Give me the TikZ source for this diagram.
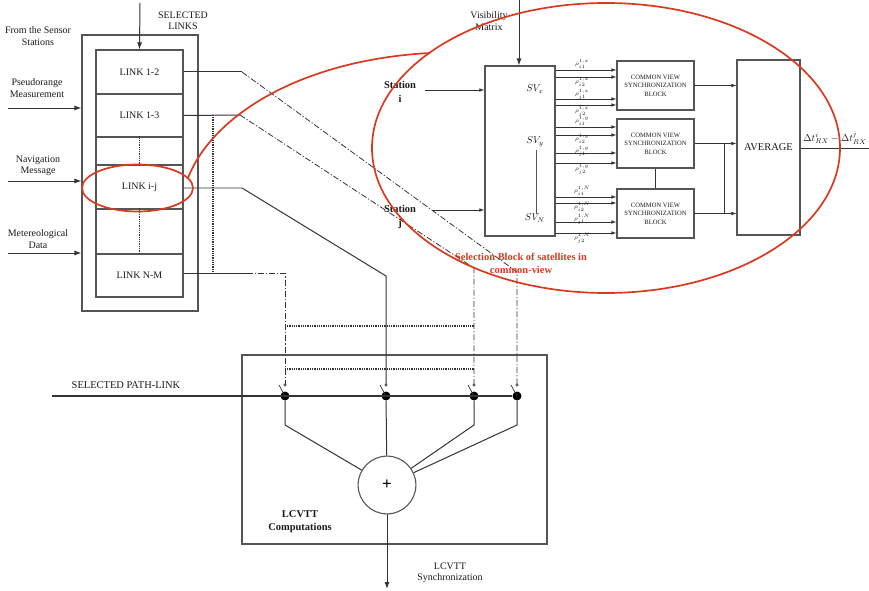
\documentclass[tikz,border=0pt]{standalone}
\usepackage{fontspec}
\setmainfont{Liberation Serif}
\usetikzlibrary{arrows.meta}
\definecolor{boxc}{HTML}{555555}
\definecolor{linec}{HTML}{333333}
\definecolor{txtc}{HTML}{1A1A1A}
\definecolor{redc}{HTML}{D9391F}
\tikzset{
  box/.style={draw=boxc, line width=1.1pt, inner sep=0pt},
  wire/.style={draw=linec, line width=1pt},
  arr/.style={wire, -{Latex[length=7pt,width=5pt]}},
  sarr/.style={wire, line width=0.8pt, -{Latex[length=5pt,width=3.6pt]}},
  dd/.style={draw=linec, line width=0.8pt, dash pattern=on 6pt off 2pt on 1.2pt off 2pt},
  dotl/.style={draw=linec, line width=1.8pt, dash pattern=on 0.9pt off 0.9pt},
  lbl/.style={font=\fontsize{10}{11.5}\selectfont, align=center, text=txtc, inner sep=0pt},
  blbl/.style={lbl, font=\fontsize{10.5}{13}\selectfont\bfseries},
  tiny/.style={font=\fontsize{6.6}{8.4}\selectfont, align=center, text=txtc, inner sep=0pt},
  rho/.style={font=\fontsize{6}{6.5}\selectfont, text=txtc, inner sep=0pt},
  redl/.style={draw=redc, line width=1.7pt},
  dotn/.style={circle, fill=black, inner sep=0pt, minimum size=9pt},
  sumn/.style={circle, draw=boxc, line width=1.1pt, minimum size=58pt, inner sep=0pt}
}
\begin{document}
\begin{tikzpicture}[x=1bp,y=-1bp]
\useasboundingbox (0,0) rectangle (869,591);

% ---------------- left: selected links
\node[box, minimum width=116bp, minimum height=276bp] (outer) at (140,173) {};
\node[box, minimum width=87bp, minimum height=44bp] (r1) at (139.5,72) {};
\node[box, minimum width=87bp, minimum height=43bp] (r2) at (139.5,115.5) {};
\node[box, minimum width=87bp, minimum height=28bp] (r3) at (139.5,151) {};
\node[box, minimum width=87bp, minimum height=44bp] (r4) at (139.5,187) {};
\node[box, minimum width=87bp, minimum height=45bp] (r5) at (139.5,231.5) {};
\node[box, minimum width=87bp, minimum height=43bp] (r6) at (139.5,275.5) {};
\node[lbl] (t1) at (r1) {LINK 1-2};
\node[lbl] (t2) at (r2) {LINK 1-3};
\node[lbl] (t4) at (r4) {LINK i-j};
\node[lbl] (t6) at (r6) {LINK N-M};
\draw[dotl] (r3.north) -- (r3.south);
\draw[dotl] (r5.north) -- (r5.south);

\node[lbl] (fs) at (38,36) {From the Sensor\\Stations};
\node[lbl] (sl) at (183,21) {SELECTED\\LINKS};
\node[lbl] (pm) at (37,88) {Pseudorange\\Measurement};
\node[lbl] (nm) at (38,166) {Navigation\\Message};
\node[lbl] (md) at (38,239) {Metereological\\Data};

\coordinate (topin) at (140,3);
\draw[arr] (topin) -- (r1.north);
\coordinate (i1) at (8,108);
\coordinate (i2) at (8,181);
\coordinate (i3) at (8,253);
\draw[arr] (i1) -- (i1 -| outer.west);
\draw[arr] (i2) -- (i2 -| outer.west);
\draw[arr] (i3) -- (i3 -| outer.west);

% ---------------- bottom: LCVTT computations
\node[box, minimum width=305bp, minimum height=189bp] (lc) at (394.5,449.5) {};
\node[blbl] (lct) at (300,522) {LCVTT\\Computations};
\node[sumn] (sum) at (387,485) {\fontsize{17}{17}\selectfont\bfseries +};
\node[dotn] (d1) at (285,396) {};
\node[dotn] (d2) at (386,396) {};
\node[dotn] (d3) at (474,396) {};
\node[dotn] (d4) at (517,396) {};
\coordinate (spl) at (52,396);
\draw[wire, line width=1.2pt] (spl) -- (d4);
\node[lbl, font=\fontsize{10.5}{12}\selectfont] (splt) at (126,385) {SELECTED PATH-LINK};
% switch tops
\foreach \d in {d1,d2,d3,d4}{
  \draw[linec, line width=0.5pt] (\d.center) ++(0,-11) circle[radius=1.3];
  \draw[linec, line width=0.7pt] (\d.center) -- ++(-6,-11);
}
% links to the adder
\coordinate (k1) at (285,425);
\coordinate (k3) at (474,425);
\coordinate (k4) at (517,425);
\draw[wire] (d1) -- (k1) -- (sum);
\draw[wire] (d2) -- (sum);
\draw[wire] (d3) -- (k3) -- (sum);
\draw[wire] (d4) -- (k4) -- (sum);
\coordinate (outs) at (387,589);
\draw[arr] (sum) -- (outs);
\node[lbl] (syn) at (450,573) {LCVTT\\Synchronization};

% ---------------- link wires
\coordinate (a1) at (242,72);
\coordinate (a1b) at (517,272);
\coordinate (a1c) at (517,385);
\draw[wire] (r1.east) -- (a1);
\draw[dd] (a1) -- (a1b) -- (a1c);
\coordinate (a2) at (240,115);
\coordinate (a2b) at (474,268);
\coordinate (a2c) at (474,385);
\draw[wire] (r2.east) -- (a2);
\draw[dd] (a2) -- (a2b) -- (a2c);
\coordinate (a4) at (242,188);
\coordinate (a4b) at (386,276);
\coordinate (a4c) at (386,385);
\draw[wire] (r4.east |- a4) -- (a4) -- (a4b) -- (a4c);
\coordinate (a6) at (247,273);
\coordinate (a6b) at (285,273);
\coordinate (a6c) at (285,385);
\draw[wire] (r6.east |- a6) -- (a6);
\draw[dd] (a6) -- (a6b) -- (a6c);
\coordinate (v13) at (213,115);
\coordinate (v6) at (213,273);
\draw[dotl] (v13) -- (v6);
\coordinate (h1a) at (285,326);
\coordinate (h1b) at (474,326);
\coordinate (h2a) at (285,369);
\coordinate (h2b) at (474,369);
\draw[dotl] (h1a) -- (h1b);
\draw[dotl] (h2a) -- (h2b);

% ---------------- right: selection and synchronization
\node[box, minimum width=70bp, minimum height=170bp] (sel) at (520,151) {};
\node[box, minimum width=77bp, minimum height=49bp] (b1) at (655.5,85.5) {};
\node[box, minimum width=77bp, minimum height=49bp] (b2) at (655.5,143.5) {};
\node[box, minimum width=77bp, minimum height=49bp] (b3) at (655.5,213.5) {};
\node[box, minimum width=63bp, minimum height=175bp] (avg) at (768.5,147.5) {};
\node[tiny] (b1t) at (b1) {COMMON VIEW\\SYNCHRONIZATION\\BLOCK};
\node[tiny] (b2t) at (b2) {COMMON VIEW\\SYNCHRONIZATION\\BLOCK};
\node[tiny] (b3t) at (b3) {COMMON VIEW\\SYNCHRONIZATION\\BLOCK};
\node[lbl, font=\fontsize{10.5}{12}\selectfont] (avgt) at (avg) {AVERAGE};

\node[lbl] (vm) at (489,21) {Visibility\\Matrix};
\coordinate (vin) at (519,0);
\draw[arr] (vin) -- (vin |- sel.north);
\node[blbl, font=\fontsize{10.5}{14}\selectfont\bfseries] (sti) at (400,92) {Station\\i};
\node[blbl, font=\fontsize{10.5}{14}\selectfont\bfseries] (stj) at (400,217) {Station\\j};
\coordinate (si) at (425,90);
\coordinate (sj) at (432,210);
\draw[sarr] (si) -- (si -| sel.west);
\draw[sarr] (sj) -- (sj -| sel.west);
\node[lbl, font=\fontsize{10}{11}\selectfont] (svx) at (535,89) {$SV_x$};
\node[lbl, font=\fontsize{10}{11}\selectfont] (svy) at (535,142) {$SV_y$};
\node[lbl, font=\fontsize{10}{11}\selectfont] (svn) at (535,218) {$SV_N$};
\draw[draw=boxc, line width=0.9pt] (svy.south) ++(1,3) coordinate (vs1) -- (vs1 |- svn.north);

\foreach \y in {70,77,99,105}{
  \coordinate (t) at (0,\y);
  \draw[sarr] (sel.east |- t) -- (b1.west |- t);
}
\foreach \y in {127,135,153,163}{
  \coordinate (t) at (0,\y);
  \draw[sarr] (sel.east |- t) -- (b2.west |- t);
}
\foreach \y in {197,203,222,233}{
  \coordinate (t) at (0,\y);
  \draw[sarr] (sel.east |- t) -- (b3.west |- t);
}
\foreach \y/\s/\b in {64/x/i1,82/x/i2,94/x/j1,111/x/j2,121/y/i1,139/y/i2,151/y/j1,169/y/j2,191/N/i1,207/N/i2,219/N/j1,238.5/N/j2}{
  \node[rho] at (582,\y) {$\rho^{1,\s}_{\b}$};
}

\draw[sarr] (b1.east) -- (avg.west |- b1.east);
\draw[sarr] (b2.east) -- (avg.west |- b2.east);
\draw[sarr] (b3.east) -- (avg.west |- b3.east);
\coordinate (vj) at (724,0);
\draw[wire, line width=0.8pt] (vj |- b2.east) -- (vj |- b3.east);
\draw[wire] (b2.south) -- (b3.north);
\coordinate (dout) at (869,148);
\draw[wire] (avg.east |- dout) -- (dout);
\node[lbl, font=\fontsize{10}{12}\selectfont] (dtt) at (835,138) {$\Delta t^{i}_{RX}-\Delta t^{j}_{RX}$};

\node[lbl, font=\fontsize{10.5}{13}\selectfont\bfseries, text=redc] (redt) at (521,263) {Selection Block of satellites in\\common-view};

% ---------------- red highlight
\draw[redl] (137.5,188) ellipse[x radius=55.5, y radius=23.5];
\draw[redl] (606,148) ellipse[x radius=234, y radius=145];
\coordinate (ra) at (188,178);
\coordinate (rb) at (430,53);
\draw[redl] (ra) .. controls (212,116) and (300,60) .. (rb);
\end{tikzpicture}
\end{document}
